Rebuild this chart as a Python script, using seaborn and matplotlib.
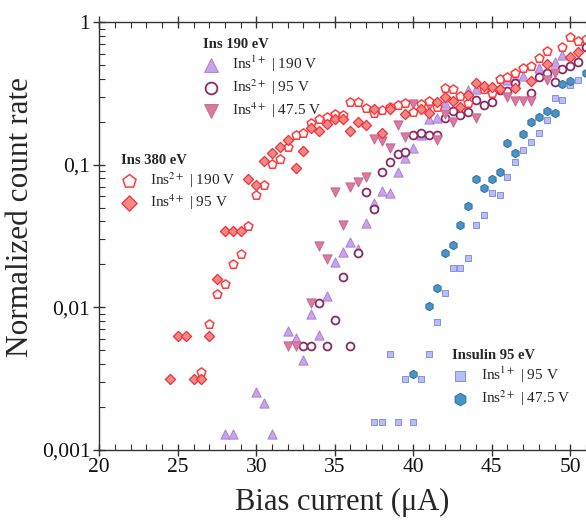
import matplotlib
matplotlib.use("Agg")
import matplotlib.pyplot as plt
import matplotlib.ticker as mticker
import seaborn as sns

# Ins 380 eV, Ins2+ | 190 V (open pentagons)
x_380_2 = [26.5, 27.0, 27.5, 28.0, 28.5, 29.0, 29.5, 30.0, 30.5, 31.0, 31.5, 32.0, 32.5, 33.0,
           33.5, 34.0, 34.5, 35.0, 35.5, 36.0, 36.5, 37.0, 37.5, 38.0, 38.5, 39.0, 39.5, 40.0,
           40.5, 41.0, 41.5, 42.0, 42.5, 43.0, 43.5, 44.5, 45.0, 45.5, 46.0, 46.5, 47.0, 47.5,
           48.0, 48.5, 49.5, 50.0, 50.5, 51.0]
y_380_2 = [0.0035, 0.0076, 0.0124, 0.0145, 0.020, 0.0236, 0.037, 0.061, 0.072, 0.101, 0.110,
           0.134, 0.161, 0.166, 0.195, 0.208, 0.217, 0.227, 0.223, 0.275, 0.275, 0.248, 0.229,
           0.242, 0.252, 0.261, 0.272, 0.234, 0.266, 0.281, 0.255, 0.343, 0.337, 0.303, 0.272,
           0.337, 0.316, 0.40, 0.414, 0.44, 0.478, 0.49, 0.557, 0.629, 0.671, 0.789, 0.736, 0.76]

# Ins 380 eV, Ins4+ | 95 V (filled diamonds)
x_380_4 = [24.5, 25.0, 25.5, 26.0, 26.5, 27.0, 27.5, 28.0, 28.5, 29.0, 29.5, 30.0, 30.5, 31.0,
           31.5, 32.0, 32.5, 33.0, 33.5, 34.0, 34.5, 35.0, 35.5, 36.0, 36.5, 37.0, 37.5, 38.0,
           38.5, 39.5, 40.5, 41.0, 41.5, 42.0, 42.5, 43.0, 43.5, 44.0, 44.5, 45.0, 45.5, 46.5,
           47.5, 48.5, 50.0, 50.5]
y_380_4 = [0.00313, 0.00627, 0.00627, 0.00313, 0.00313, 0.00627, 0.0157, 0.0345, 0.0345, 0.0345,
           0.079, 0.072, 0.106, 0.120, 0.134, 0.148, 0.095, 0.125, 0.180, 0.173, 0.194, 0.209,
           0.208, 0.172, 0.199, 0.190, 0.245, 0.166, 0.245, 0.226, 0.247, 0.229, 0.275, 0.300,
           0.281, 0.252, 0.306, 0.372, 0.356, 0.352, 0.337, 0.345, 0.384, 0.508, 0.571, 0.619]

# Ins 190 eV, Ins1+ | 190 V (up triangles)
x_190_1 = [28.0, 28.5, 31.0, 30.0, 30.5, 32.0, 32.5, 33.0, 33.5, 34.0, 34.5, 35.0, 35.5, 36.0,
           36.5, 37.0, 37.5, 38.0, 38.5, 39.0, 39.5, 40.0, 40.5, 41.0, 41.5, 42.0, 43.5, 44.0,
           46.0, 46.5, 47.0, 48.0, 49.0, 49.5]
y_190_1 = [0.00129, 0.00129, 0.00129, 0.00257, 0.00215, 0.00684, 0.00607, 0.00428, 0.0090,
           0.00641, 0.0120, 0.0207, 0.0246, 0.0286, 0.0257, 0.0392, 0.0536, 0.0654, 0.063,
           0.0885, 0.111, 0.1316, 0.1615, 0.208, 0.211, 0.269, 0.334, 0.337, 0.392, 0.405,
           0.418, 0.474, 0.524, 0.590]

# Ins 190 eV, Ins2+ | 95 V (open circles)
x_190_2 = [33.0, 33.5, 34.0, 34.5, 35.0, 35.5, 36.0, 36.5, 37.0, 37.5, 38.0, 38.5, 39.0, 39.5,
           40.0, 40.5, 41.0, 41.5, 42.0, 42.5, 43.0, 43.5, 44.0, 44.5, 45.0, 45.5, 46.0, 46.5,
           47.5, 48.0, 48.5, 49.0, 49.5, 50.0, 50.5, 51.0]
y_190_2 = [0.0054, 0.0054, 0.0107, 0.0054, 0.0081, 0.0162, 0.0054, 0.0242, 0.0644, 0.0487,
           0.0885, 0.1044, 0.118, 0.123, 0.1615, 0.166, 0.1615, 0.1615, 0.2115, 0.237, 0.224,
           0.234, 0.284, 0.263, 0.277, 0.334, 0.330, 0.372, 0.320, 0.414, 0.441, 0.382, 0.466,
           0.492, 0.527, 0.671]

# Ins 190 eV, Ins4+ | 47.5 V (down triangles)
x_190_4 = [32.0, 32.5, 33.5, 34.0, 34.5, 35.0, 35.5, 36.0, 36.5, 37.0, 37.5, 38.0, 38.5, 39.0,
           39.5, 40.0, 41.0, 41.5, 42.0, 42.5, 44.0, 46.0, 46.5, 47.0, 47.5, 48.5, 49.0]
y_190_4 = [0.0054, 0.0054, 0.0108, 0.0271, 0.0217, 0.0647, 0.0378, 0.0701, 0.0753, 0.0816,
           0.152, 0.146, 0.130, 0.190, 0.157, 0.266, 0.258, 0.150, 0.227, 0.200, 0.2115, 0.300,
           0.281, 0.281, 0.281, 0.392, 0.441]

# Insulin 95 eV, Ins1+ | 95 V (squares)
x_95_1 = [37.5, 38.0, 38.5, 39.0, 39.5, 40.0, 40.5, 41.0, 41.5, 42.0, 42.5, 43.0, 43.5, 44.0,
          44.5, 45.0, 45.5, 46.0, 46.5, 47.0, 47.5, 48.0, 48.5, 49.0, 49.5, 50.0, 50.5]
y_95_1 = [0.00158, 0.00158, 0.00471, 0.00158, 0.00315, 0.00158, 0.00315, 0.00471, 0.00786,
          0.01255, 0.0190, 0.0190, 0.0221, 0.0378, 0.0442, 0.0630, 0.0613, 0.0816, 0.104,
          0.127, 0.144, 0.168, 0.206, 0.292, 0.284, 0.362, 0.392]

# Insulin 95 eV, Ins2+ | 47.5 V (hexagons)
x_95_2 = [40.0, 41.0, 41.5, 42.0, 42.5, 43.0, 43.5, 44.0, 44.5, 45.0, 45.5, 46.0, 46.5, 47.0,
          47.5, 48.0, 48.5, 49.0, 49.5, 50.0, 51.0]
y_95_2 = [0.00341, 0.01028, 0.01374, 0.0242, 0.0275, 0.0378, 0.0516, 0.0790, 0.0687, 0.0790,
          0.0893, 0.141, 0.120, 0.165, 0.200, 0.215, 0.238, 0.229, 0.366, 0.388, 0.437]

x_ticks = [20, 25, 30, 35, 40, 45, 50]
y_ticks = [0.001, 0.01, 0.1, 1]
y_tick_labels = ["0,001", "0,01", "0,1", "1"]

sns.set_style("ticks")
plt.rcParams["font.family"] = ["Liberation Serif", "DejaVu Serif"]
plt.rcParams["mathtext.fontset"] = "stix"

fig = plt.figure(figsize=(5.86, 5.2), dpi=100)
ax = fig.add_axes([99.3 / 586, 70 / 520, (586 - 99.3) / 586, 428 / 520])

series = [
    # x, y, marker, size, face, edge, label, lw
    (x_190_1, y_190_1, "^", 44, "#c9a2ec", "#a980d6", "Ins$^{1+}$ | 190 V", 0.7),
    (x_190_2, y_190_2, "o", 32, "white", "#8a2a62", "Ins$^{2+}$ | 95 V", 1.3),
    (x_190_4, y_190_4, "v", 44, "#d97aa3", "#c8678f", "Ins$^{4+}$ | 47.5 V", 0.7),
    (x_380_2, y_380_2, "p", 44, "white", "#ff3b3b", "Ins$^{2+}$ | 190 V", 1.1),
    (x_380_4, y_380_4, "D", 27, "#f58686", "#e8343a", "Ins$^{4+}$ | 95 V", 0.9),
    (x_95_1, y_95_1, "s", 24, "#b7bdf5", "#8890e0", "Ins$^{1+}$ | 95 V", 0.7),
    (x_95_2, y_95_2, "h", 36, "#4a93c6", "#2f6fa0", "Ins$^{2+}$ | 47.5 V", 0.7),
]

handles = []
for xs, ys, mk, sz, fc, ec, lab, lw in series:
    sns.scatterplot(x=xs, y=ys, ax=ax, marker=mk, s=sz, color=fc, edgecolor=ec,
                    linewidth=lw, label=lab, legend=False, zorder=3)
    handles.append(ax.collections[-1])

ax.set_yscale("log")
ax.set_xlim(20, 20 + (586 - 99.3) / 15.7)
ax.set_ylim(0.001, 1)

ax.xaxis.set_major_locator(mticker.FixedLocator(x_ticks))
ax.xaxis.set_minor_locator(mticker.MultipleLocator(1))
ax.yaxis.set_major_locator(mticker.FixedLocator(y_ticks))
ax.yaxis.set_major_formatter(mticker.FixedFormatter(y_tick_labels))
ax.yaxis.set_minor_locator(mticker.LogLocator(base=10, subs=range(2, 10)))
ax.yaxis.set_minor_formatter(mticker.NullFormatter())

ax.tick_params(axis="both", which="major", labelsize=15.5, direction="inout", length=9,
               width=1, color="#333333", labelcolor="#111111", pad=2)
ax.tick_params(axis="both", which="minor", direction="in", length=4, width=0.8, color="#333333")
ax.tick_params(axis="x", which="both", top=True)
ax.tick_params(axis="x", which="major", pad=1)

for side in ["left", "bottom", "top"]:
    ax.spines[side].set_linewidth(1.0)
    ax.spines[side].set_color("#333333")
ax.spines["right"].set_visible(False)

ax.set_xlabel("Bias current (μA)", fontsize=22, labelpad=8)
ax.set_ylabel("Normalized count rate", fontsize=22.5)
ax.yaxis.set_label_coords(-0.132, 0.545)

leg_kw = dict(frameon=False, fontsize=11, handlelength=1.0, handletextpad=0.9,
              labelspacing=0.2, borderpad=0, borderaxespad=0, alignment="left",
              markerscale=1.5,
              title_fontproperties={"weight": "bold", "size": 10.5},
              loc="upper left", bbox_transform=fig.transFigure)

leg1 = ax.legend(handles=handles[0:3], labels=[s[6] for s in series[0:3]],
                 title="Ins 190 eV", bbox_to_anchor=(203 / 586, 1 - 38 / 520), **leg_kw)
ax.add_artist(leg1)
leg2 = ax.legend(handles=handles[3:5], labels=[s[6] for s in series[3:5]],
                 title="Ins 380 eV", bbox_to_anchor=(121 / 586, 1 - 154 / 520), **leg_kw)
ax.add_artist(leg2)
leg3 = ax.legend(handles=handles[5:7], labels=[s[6] for s in series[5:7]],
                 title="Insulin 95 eV", bbox_to_anchor=(452 / 586, 1 - 349 / 520), **leg_kw)

fig.savefig("out.png", dpi=100)
